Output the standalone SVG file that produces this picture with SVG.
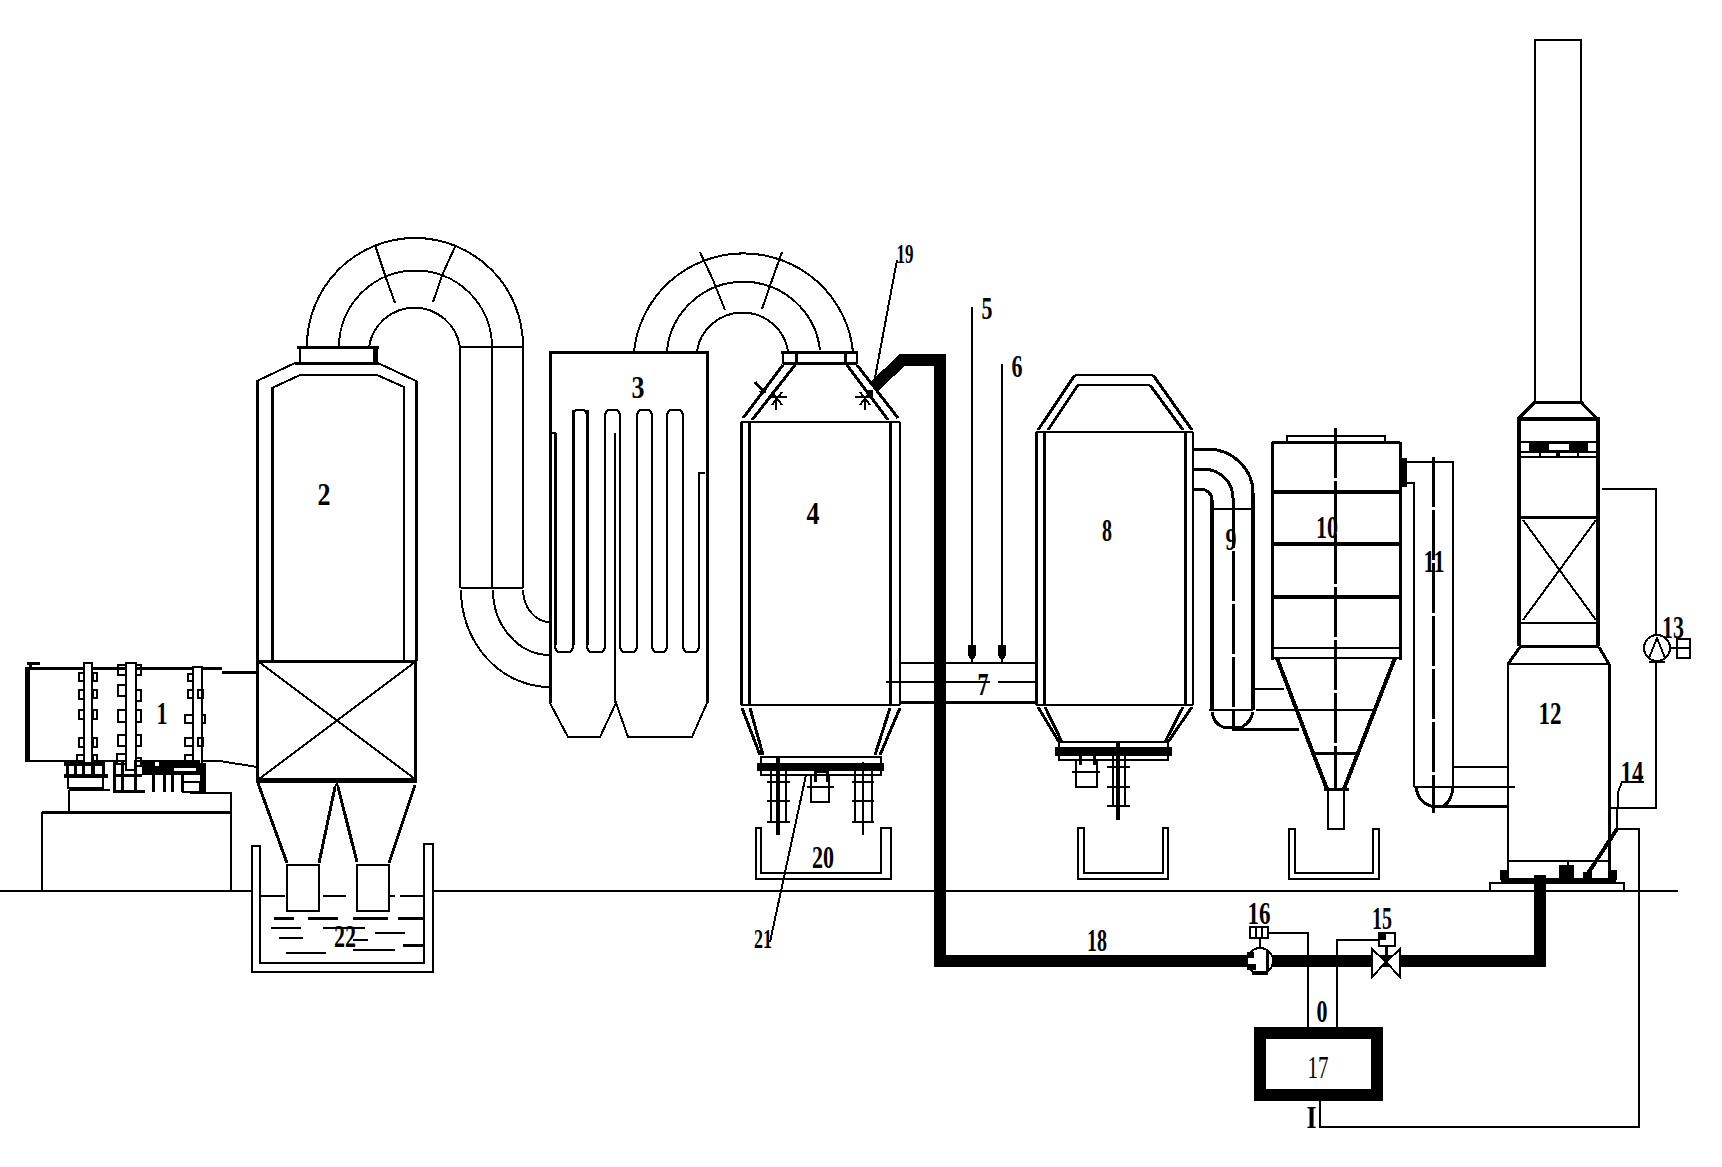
<svg xmlns="http://www.w3.org/2000/svg" width="1722" height="1167" viewBox="0 0 1722 1167">
<style>
svg{background:#fff}
path,rect,circle,line{shape-rendering:crispEdges}
.s{fill:none;stroke:#000;stroke-width:2}
.t{fill:none;stroke:#000;stroke-width:3}
.h{fill:none;stroke:#000;stroke-width:4}
.f{fill:#fff;stroke:#000;stroke-width:2}
.b{fill:#000;stroke:none}
.p{fill:none;stroke:#000;stroke-width:12;stroke-linejoin:miter}
.c{fill:none;stroke:#000;stroke-width:3;stroke-dasharray:50 3}
text{font-family:"Liberation Serif","DejaVu Serif",serif;font-weight:bold;font-size:31px;fill:#000;text-anchor:middle}
</style>
<defs>
<marker id="a" markerWidth="10" markerHeight="18" refX="5" refY="17" markerUnits="userSpaceOnUse"><path d="M1 0H9V10L5 17L1 10Z" fill="#000"/></marker>
</defs>

<g id="ground"><path class="s" d="M0 891H252M433 891H934M946 891H1490M1624 891H1678"/></g>

<g id="connectors">
<!-- duct 2-3 -->
<path class="s" d="M307 347V346A108 108 0 0 1 523 346V588M339 347A76 76 0 0 1 492 347V588M369 347A46 46 0 0 1 460 347V588M461 347H523M461 588H523"/>
<path class="s" d="M395 303L386 278L375 245M433 302L443 273L455 247"/>
<path class="s" d="M523 590A27 33 0 0 0 550 622M493 590A57 65 0 0 0 550 655M461 590A89 97 0 0 0 550 687"/>
<!-- duct 3-4 -->
<path class="s" d="M634 352V352A110 109 0 0 1 853 352M667 352V350A77 77 0 0 1 820 350M697 351A46 45 0 0 1 788 351"/>
<path class="s" d="M725 310L713 280L700 252M762 309L772 280L782 252"/>
<!-- duct 7 -->
<path class="s" d="M900 663H1036M886 682H990M998 682H1036"/>
<path class="t" d="M900 702H1036"/>
<path class="s" d="M972 307V662" marker-end="url(#a)"/>
<path class="s" d="M1002 364V662" marker-end="url(#a)"/>
<!-- duct 9 -->
<path class="t" d="M1194 449H1208A46 44 0 0 1 1253 493"/>
<path class="t" d="M1194 469H1203A30 29 0 0 1 1233 498"/>
<path class="t" d="M1194 489H1200A12 11 0 0 1 1212 500"/>
<path class="h" d="M1212 500V710"/>
<path class="h" d="M1253 493V710"/>
<path class="s" d="M1212 509H1253M1209 710H1253M1256 710H1375M1254 689H1284"/>
<path class="t" d="M1212 712Q1214 724 1223 727H1242Q1251 722 1253 712M1232 729H1299"/>
<path class="c" d="M1233 498V729"/>
<!-- duct 11 -->
<path class="s" d="M1405 462H1453V787M1407 483H1414V787M1414 787H1515M1453 767H1508"/>
<path class="t" d="M1433 806H1508"/>
<path class="t" d="M1416 787Q1418 802 1431 806H1444Q1452 800 1453 787"/>
<path class="c" d="M1433 457V813"/>
<!-- thick pipe -->
<path class="p" d="M875 386L902 360H940V960.500H1540V875"/>
<!-- control lines -->
<path class="s" d="M1268 933H1308V1027M1337 1027V940H1381"/>
<path class="s" d="M1319.500 1101V1127H1639V829H1617"/>
<path class="s" d="M1602 489H1656V808H1609M1617 808V829"/>
<path class="s" d="M1644 782H1622L1618 792V808"/>
<path class="s" d="M897 260L874 383"/>
<path class="s" d="M806 775L770 942"/>
</g>

<g id="n1">
<path class="t" d="M27 663H40M30 664V668M30 668H222"/>
<rect class="b" x="25" y="667" width="5" height="95"/>
<path class="s" d="M30 761H220L257 767M222 672H257"/>
<path class="t" d="M222 672H257"/>
<rect class="f" x="84" y="663" width="8" height="112"/>
<rect class="f" x="126" y="663" width="10" height="107"/>
<rect class="f" x="193" y="667" width="9" height="103"/>
<path class="s" d="M79 673h5v8h-5zM93 673h4v8h-4zM79 690h5v9h-5zM93 690h4v8h-4zM79 710h5v9h-5zM93 710h4v9h-4zM79 738h5v9h-5zM93 738h4v9h-4zM77 755h7v8h-7zM93 755h4v8h-4z"/>
<path class="s" d="M118 665h8v10h-8zM136 665h5v10h-5zM118 685h8v11h-8zM136 690h5v11h-5zM118 710h8v12h-8zM136 710h5v12h-5zM118 735h8v11h-8zM136 735h5v11h-5zM117 754h9v10h-9zM136 758h5v8h-5z"/>
<path class="s" d="M188 674h5v7h-5zM198 690h5v8h-5zM188 690h5v8h-5zM185 715h8v8h-8zM202 715h3v8h-3zM185 738h8v8h-8zM198 738h5v8h-5zM185 755h8v7h-8z"/>
<rect class="b" x="64" y="762" width="41" height="4"/>
<rect class="b" x="64" y="774" width="44" height="4"/>
<path class="t" d="M67 762V778M75 762V778M83 762V778M93 762V778M103 762V778"/>
<path class="s" d="M68 778V788H103V778"/>
<path class="t" d="M114 760V792M122 760V792M135 760V792M113 775H142M113 791H145"/>
<rect class="b" x="142" y="760" width="58" height="15"/>
<rect x="155" y="762" width="4" height="4" fill="#fff"/>
<rect x="174" y="768" width="22" height="3" fill="#fff"/>
<path class="t" d="M153 775V792M164 775V792M172 775V792M182 775V792"/>
<path class="s" d="M183 782H200V792H183Z"/>
<rect class="b" x="200" y="763" width="6" height="30"/>
<path class="s" d="M69 790V812M69 790H110M190 793H231V891"/>
<path class="t" d="M42 812H231"/>
<path class="s" d="M42 812V891"/>
<text x="162" y="724" textLength="11" lengthAdjust="spacingAndGlyphs">1</text>
</g>

<g id="n2">
<path class="s" d="M257 661V381L295 363H378L416 381V661"/>
<path class="t" d="M257 381V661M416 381V661"/>
<rect class="s" x="300" y="347" width="77" height="16"/>
<path class="t" d="M297 347H379M295 363H379"/>
<rect class="b" x="373" y="347" width="5" height="16"/>
<path class="s" d="M272 661V388L300 375H377L404 387V661"/>
<path class="t" d="M272 388V661"/>
<rect class="t" x="257.500" y="661" width="158" height="119"/>
<path class="s" d="M259 662L415 779M415 662L259 779"/>
<rect class="b" x="256" y="778" width="161" height="5"/>
<path class="t" d="M258 783L287 863M335 787L319 863M338 787L357 862M415 785L389 863"/>
<path class="s" d="M335 787L337 783L338 787"/>
<rect class="s" x="287" y="865" width="32" height="46"/>
<rect class="s" x="357" y="865" width="32" height="46"/>
<path class="s" d="M287 865V911M319 865V911"/>
<path class="s" d="M252 972V846H260V963H424V844H433V972Z"/>
<path class="s" d="M260 896H272M271 896H285M323 896H346M390 896H395M400 896H423M271 928H301M323 928H365M375 933H405M279 938H303M353 940H368M353 950H395M286 953H326"/>
<path class="t" d="M274 918H294M308 918H338M353 918H388M398 918H423M403 945H423"/>
<text x="345" y="947" textLength="22" lengthAdjust="spacingAndGlyphs">22</text>
<text x="324" y="505" textLength="13" lengthAdjust="spacingAndGlyphs">2</text>
</g>

<g id="n3">
<path class="t" d="M550 703V352H707V703"/>
<path class="s" d="M550 703L568 737H600L616 703L628 737H692L707 703"/>
<path class="s" d="M615 433V703"/>
<path class="s" d="M552 433H555V645Q555 652 560 652H568Q573 652 573 645V417Q573 410 578 410H582Q587 410 587 417V645Q587 652 592 652H600Q605 652 605 645V417Q605 410 610 410H615Q620 410 620 417V645Q620 652 625 652H632Q637 652 637 645V417Q637 410 642 410H647Q652 410 652 417V645Q652 652 657 652H662Q667 652 667 645V417Q667 410 672 410H678Q683 410 683 417V645Q683 652 688 652H694Q699 652 699 645V473H705"/>
<path class="t" d="M555 433V645M573 410V645M587 410V645"/>
<text x="638" y="398" textLength="13" lengthAdjust="spacingAndGlyphs">3</text>
</g>

<g id="n4">
<rect class="s" x="783" y="352" width="74" height="11"/>
<path class="t" d="M781 352H858M783 363H857M796 352V363M845 352V363"/>
<path class="t" d="M783 365L743 418M795 365L752 420M847 365L888 420M857 365L898 418"/>
<path class="s" d="M741 422H900M741 705H900"/>
<path class="t" d="M741 422V705M749 422V705M890 422V705"/>
<path class="s" d="M900 422V705"/>
<path class="t" d="M742 708L760 755M750 708L763 755M900 708L880 755M890 708L875 755"/>
<path class="s" d="M761 757H881V775H761Z"/>
<rect class="b" x="757" y="763" width="127" height="8"/>
<path class="s" d="M771 771V822M786 771V822M767 782H790M767 801H790M767 822H790M855 771V822M872 771V822M852 782H874M852 801H874M852 822H874M863 762V835"/>
<path class="h" d="M778 757V835"/>
<rect class="s" x="811" y="775" width="18" height="27"/>
<path class="s" d="M807 787H834"/>
<path class="b" d="M814 768H829V782H826V773H817V782H814Z"/>
<path class="t" d="M755 382L765 393M760 393L767 388"/>
<path class="s" d="M770 397H787M776 397V410M772 392L782 405M782 392L772 405"/>
<path class="s" d="M855 397H870M865 397V410M860 392L870 405M870 392L860 405"/>
<rect class="b" x="868" y="390" width="5" height="8"/>
<text x="813" y="524" textLength="13" lengthAdjust="spacingAndGlyphs">4</text>
<text x="905" y="263" textLength="17" lengthAdjust="spacingAndGlyphs" style="font-size:27px">19</text>
<text x="763" y="948" textLength="18" lengthAdjust="spacingAndGlyphs" style="font-size:27px">21</text>
</g>

<g id="n20">
<path class="s" d="M756 828V879H891V828H881V873H761V828Z"/>
<text x="823" y="868" textLength="22" lengthAdjust="spacingAndGlyphs">20</text>
</g>

<g id="l5"><text x="987" y="319" textLength="11" lengthAdjust="spacingAndGlyphs">5</text></g>
<g id="l6"><text x="1017" y="377" textLength="11" lengthAdjust="spacingAndGlyphs">6</text></g>
<g id="l7"><text x="983" y="695" textLength="11" lengthAdjust="spacingAndGlyphs">7</text></g>

<g id="n8">
<path class="s" d="M1036 432H1193M1036 705H1193M1075 375H1153M1077 385H1150"/>
<path class="t" d="M1036 432V705M1044 432V705M1185 432V705"/>
<path class="s" d="M1193 432V705"/>
<path class="t" d="M1075 375L1038 430M1078 385L1048 430M1153 375L1192 430M1150 385L1183 430"/>
<path class="t" d="M1038 707L1059 742M1045 707L1062 742M1192 707L1168 742M1183 707L1165 742"/>
<path class="s" d="M1059 742H1168V760H1059Z"/>
<rect class="b" x="1055" y="747" width="117" height="9"/>
<path class="s" d="M1113 756V806M1125 756V806M1107 767H1130M1107 787H1130M1107 806H1130"/>
<path class="h" d="M1118 742V820"/>
<rect class="s" x="1076" y="760" width="21" height="27"/>
<path class="s" d="M1072 772H1100"/>
<path class="b" d="M1079 752H1096V765H1093V755H1082V765H1079Z"/>
<text x="1107" y="541" textLength="10" lengthAdjust="spacingAndGlyphs">8</text>
</g>
<g id="b8"><path class="s" d="M1078 828V879H1168V828H1163V873H1084V828Z"/></g>
<g id="l9"><text x="1231" y="550" textLength="11" lengthAdjust="spacingAndGlyphs">9</text></g>

<g id="n10">
<path class="t" d="M1272 442H1400M1272 442V642M1400 442V642"/>
<path class="s" d="M1287 442V436H1385V442"/>
<path class="h" d="M1272 492H1400M1272 544H1400M1272 597H1400"/>
<path class="s" d="M1272 648H1400M1272 658H1400"/>
<path class="t" d="M1272 642V660M1400 642V660"/>
<path class="h" d="M1277 658L1313 753L1327 789M1395 658L1358 753L1344 789"/>
<path class="t" d="M1313 753H1358M1324 789H1349"/>
<path class="s" d="M1328 789V829H1344V789"/>
<path class="c" d="M1335 428V789"/>
<rect class="b" x="1400" y="458" width="7" height="29"/>
<text x="1327" y="538" textLength="22" lengthAdjust="spacingAndGlyphs">10</text>
</g>
<g id="b10"><path class="s" d="M1289 829V879H1379V829H1373V873H1295V829Z"/></g>
<g id="l11"><text x="1434" y="572" textLength="21" lengthAdjust="spacingAndGlyphs">11</text></g>

<g id="n12">
<rect class="s" x="1535" y="40" width="46" height="362"/>
<path class="t" d="M1535 402H1581M1535 402L1519 418M1581 402L1596 418"/>
<path class="h" d="M1519 418V646M1598 418V646M1517 419H1600"/>
<path class="s" d="M1520 442H1596M1520 452H1596M1520 457H1596"/>
<rect class="b" x="1529" y="443" width="59" height="9"/>
<rect x="1549" y="444" width="20" height="6" fill="#fff"/>
<rect class="b" x="1539" y="452" width="2" height="5"/>
<rect class="b" x="1556" y="452" width="4" height="5"/>
<rect class="b" x="1577" y="452" width="2" height="5"/>
<path class="t" d="M1519 517H1598M1519 646H1599"/>
<path class="s" d="M1520 623H1596M1523 520L1596 620M1596 520L1523 620"/>
<path class="t" d="M1520 647L1508 664M1599 647L1609 664"/>
<path class="s" d="M1508 664H1609V880M1508 664V880M1508 861H1609M1568 861V866"/>
<path class="t" d="M1609 664V880"/>
<rect class="b" x="1501" y="878" width="115" height="4"/>
<rect class="s" x="1490" y="883" width="134" height="8"/>
<rect class="b" x="1500" y="870" width="8" height="10"/>
<rect class="b" x="1610" y="870" width="7" height="10"/>
<rect class="b" x="1559" y="865" width="15" height="15"/>
<rect class="b" x="1583" y="872" width="9" height="8"/>
<path class="h" d="M1617 829L1585 878"/>
<text x="1550" y="724" textLength="23" lengthAdjust="spacingAndGlyphs">12</text>
<text x="1632" y="783" textLength="23" lengthAdjust="spacingAndGlyphs">14</text>
</g>

<g id="n13">
<circle class="f" cx="1657" cy="648" r="13"/>
<path class="s" d="M1649 658L1657 638L1665 658M1649 662H1665M1670 648H1677"/>
<rect class="s" x="1677" y="639" width="13" height="19"/>
<path class="s" d="M1677 648H1690"/>
<text x="1673" y="638" textLength="22" lengthAdjust="spacingAndGlyphs">13</text>
</g>

<g id="n16">
<circle class="f" cx="1260" cy="961" r="13"/>
<path class="b" d="M1247 952H1254V958H1247ZM1247 964H1256V970H1247ZM1252 971H1268V975H1252Z"/>
<path class="t" d="M1267 950V972"/>
<rect class="s" x="1250" y="927" width="18" height="11"/>
<path class="s" d="M1256 927V938M1262 927V938M1260 938V948"/>
<text x="1259" y="924" textLength="23" lengthAdjust="spacingAndGlyphs">16</text>
</g>

<g id="n15">
<path class="f" d="M1372 949L1386 962L1400 949V977L1386 962L1372 977Z"/>
<rect class="f" x="1379" y="933" width="16" height="13"/>
<rect class="b" x="1380" y="934" width="6" height="6"/>
<path class="t" d="M1386 946V962"/>
<text x="1382" y="929" textLength="20" lengthAdjust="spacingAndGlyphs">15</text>
</g>

<g id="n17">
<path class="p" d="M1260 1032.500H1377V1095H1260Z"/>
<text x="1318" y="1078" textLength="21" lengthAdjust="spacingAndGlyphs" style="font-weight:normal">17</text>
</g>

<g id="l18"><text x="1097" y="951" textLength="20" lengthAdjust="spacingAndGlyphs">18</text></g>
<g id="l0"><text x="1322" y="1022" textLength="11" lengthAdjust="spacingAndGlyphs">0</text></g>
<g id="lI"><text x="1311.500" y="1128" textLength="10" lengthAdjust="spacingAndGlyphs">I</text></g>
</svg>
